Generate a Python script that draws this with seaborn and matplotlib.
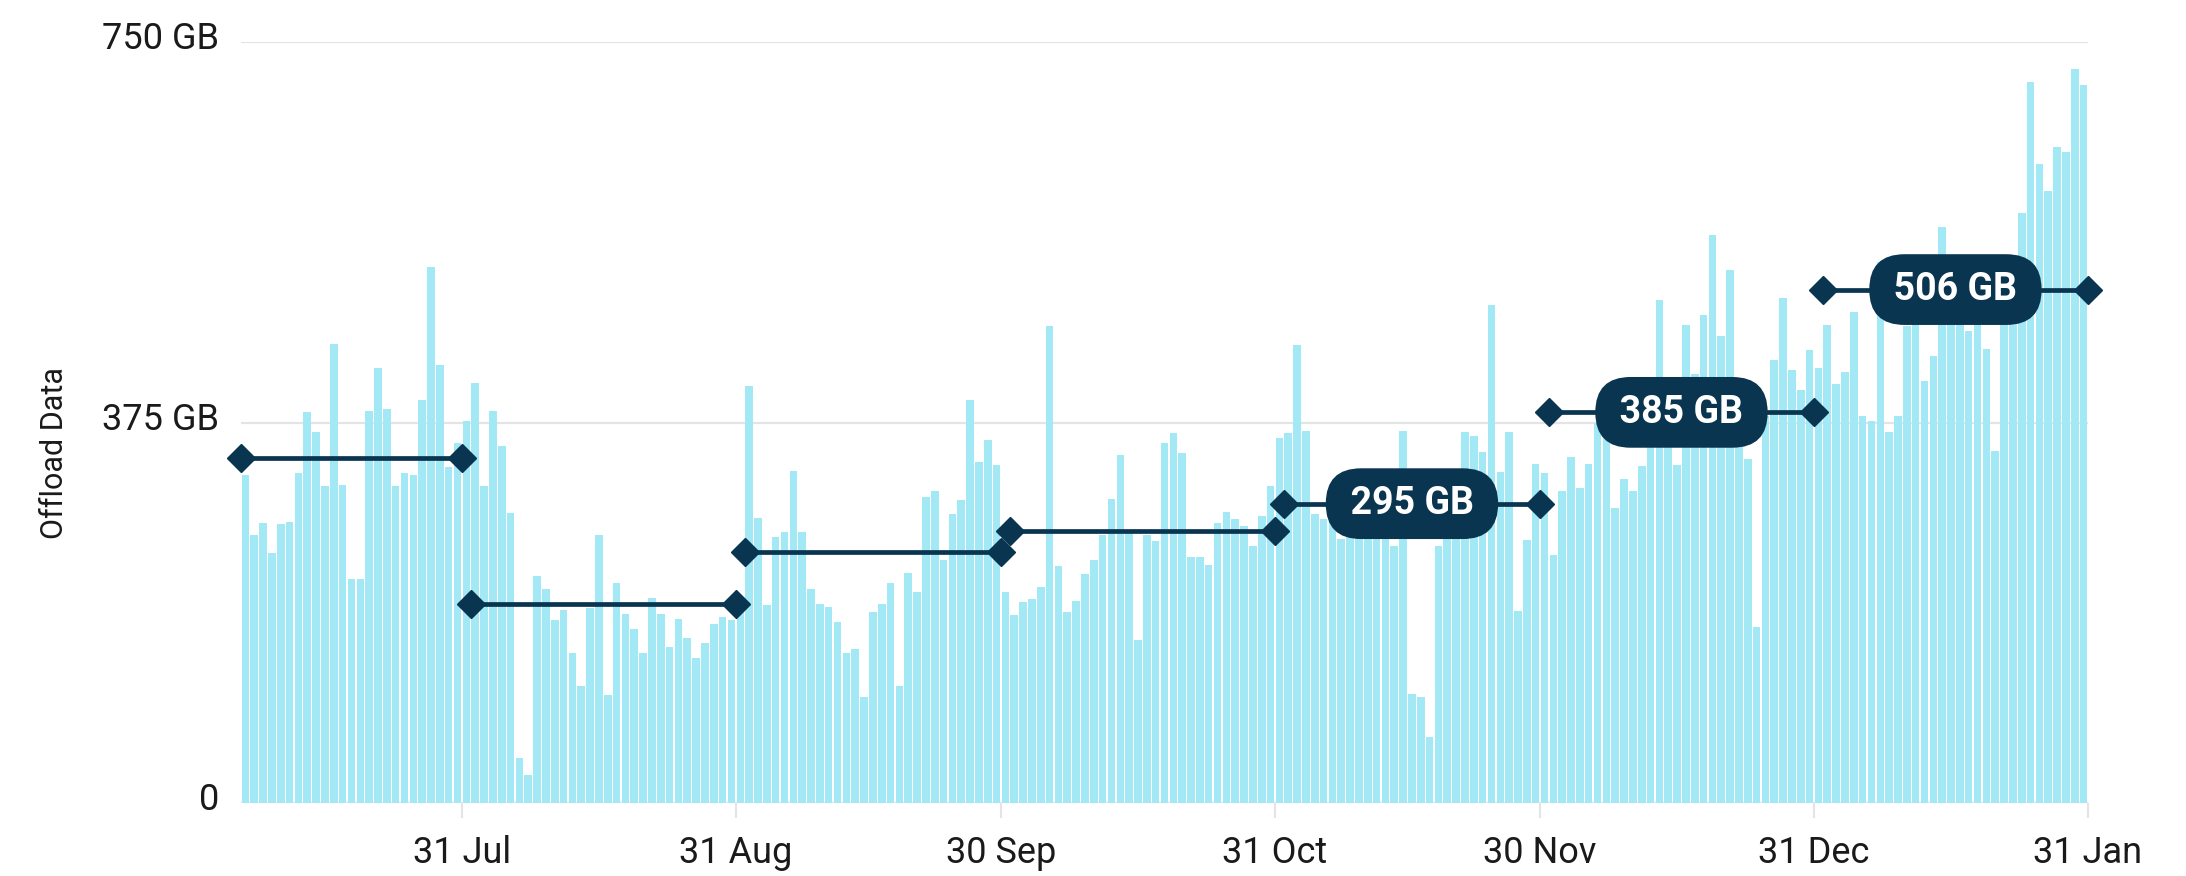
import numpy as np
import pandas as pd
import matplotlib
matplotlib.use("Agg")
import matplotlib.pyplot as plt
from matplotlib import font_manager
from matplotlib.transforms import ScaledTranslation
import seaborn as sns

# ---------------- data (GB per day) ----------------
start_date = "2023-07-06"

jul = [323, 264, 276, 246, 275, 277, 325, 385, 366, 312, 452, 313, 221, 221,
       386, 429, 388, 312, 325, 323, 397, 528, 432, 331, 355, 376]
aug = [414, 312, 386, 352, 286, 44, 28, 224, 211, 180, 190, 148, 115, 192, 264,
       106, 217, 186, 171, 148, 202, 186, 154, 181, 163, 143, 158, 176, 183, 180, 190]
sep = [411, 281, 195, 262, 267, 327, 267, 211, 196, 193, 178, 148, 152, 104, 188,
       196, 217, 115, 227, 208, 302, 307, 239, 285, 299, 397, 336, 358, 333, 208]
oct_ = [185, 198, 201, 213, 470, 234, 188, 199, 226, 239, 264, 300, 343, 267, 161,
        264, 258, 355, 365, 345, 242, 242, 235, 276, 287, 280, 273, 253, 283, 312, 360]
nov = [365, 451, 367, 285, 280, 287, 260, 292, 285, 285, 285, 285, 253, 367, 107,
       104, 65, 253, 300, 310, 366, 362, 346, 491, 326, 366, 189, 259, 334, 325]
dec = [244, 307, 341, 310, 334, 375, 370, 291, 319, 307, 332, 370, 496, 380, 333,
       471, 423, 481, 560, 460, 525, 385, 339, 173, 381, 437, 498, 427, 407, 446, 429]
jan = [471, 413, 425, 484, 381, 376, 533, 366, 381, 470, 500, 416, 441, 568, 500,
       472, 465, 472, 447, 347, 500, 510, 581, 711, 630, 603, 647, 642, 723, 708]

daily_gb = jul + aug + sep + oct_ + nov + dec + jan

month_names = ["Jul", "Aug", "Sep", "Oct", "Nov", "Dec", "Jan"]
month_first_day = ["2023-07-06", "2023-08-01", "2023-09-01", "2023-10-01",
                   "2023-11-01", "2023-12-01", "2024-01-01"]
month_last_day = ["2023-07-31", "2023-08-31", "2023-09-30", "2023-10-31",
                  "2023-11-30", "2023-12-31", "2024-01-31"]
month_avg_gb = [340, 196, 247, 268, 295, 385, 506]
labelled_months = ["Nov", "Dec", "Jan"]

tick_dates = ["2023-07-31", "2023-08-31", "2023-09-30", "2023-10-31",
              "2023-11-30", "2023-12-31", "2024-01-31"]
tick_labels = ["31 Jul", "31 Aug", "30 Sep", "31 Oct", "30 Nov", "31 Dec", "31 Jan"]
y_ticks = [0, 375, 750]
y_tick_labels = ["0", "375 GB", "750 GB"]

# ---------------- helpers ----------------
t0 = pd.Timestamp(start_date)


def day(s):
    return (pd.Timestamp(s) - t0).days


df = pd.DataFrame({"day": np.arange(len(daily_gb)) + 0.5, "gb": daily_gb})

# ---------------- style ----------------
sns.set_theme(style="white")
plt.rcParams["font.family"] = ["Roboto", "DejaVu Sans"]

BAR = "#a2e9f5"
NAVY = "#0a3550"
GRID = "#e4e4e4"
TXT = "#1a1a1a"
PILL_FS = 27
PILL_PAD = 0.45

W, H = 2186, 876
fig = plt.figure(figsize=(W / 100, H / 100), dpi=100)
ax = fig.add_axes([241 / W, 1 - 803 / H, (2088 - 241) / W, (803 - 42) / H])

sns.barplot(data=df, x="day", y="gb", native_scale=True, width=0.86,
            color=BAR, saturation=1, errorbar=None, linewidth=0, ax=ax)

# monthly average segments
pills = []
for name, a, b, v in zip(month_names, month_first_day, month_last_day, month_avg_gb):
    xa, xb = day(a), day(b)
    ax.plot([xa, xb], [v, v], color=NAVY, lw=3.4, marker="D", ms=14,
            solid_capstyle="butt", zorder=4, clip_on=False)
    if name in labelled_months:
        t = ax.text((xa + xb) / 2, v, f"\u2009{v} GB\u2009", ha="center", va="center",
                    color="white", fontsize=PILL_FS, fontweight="bold", zorder=5,
                    bbox=dict(boxstyle=f"round,pad={PILL_PAD}", fc=NAVY, ec="none"))
        pills.append(t)

# axes
ax.set_xlim(0, len(daily_gb))
ax.set_ylim(0, 750)
ax.set_yticks(y_ticks, y_tick_labels)
ax.set_xticks([day(d) for d in tick_dates], tick_labels)
ax.set_xlabel("")
ax.grid(axis="y", color=GRID, lw=1.6)
ax.grid(axis="x", visible=False)
ax.set_axisbelow(True)
for s in ax.spines.values():
    s.set_visible(False)
ax.tick_params(axis="x", bottom=True, direction="out", length=11, width=1.5,
               color=GRID, pad=12, labelsize=26, labelcolor=TXT)
ax.tick_params(axis="y", left=False, length=0, pad=16, labelsize=26, labelcolor=TXT)
for lab in ax.get_yticklabels():
    lab.set_transform(lab.get_transform() + ScaledTranslation(0, 5 / 72, fig.dpi_scale_trans))

names = {f.name for f in font_manager.fontManager.ttflist}
if "Liberation Sans Narrow" in names:
    ax.set_ylabel("Offload Data", fontsize=26.5, family=["Liberation Sans Narrow"], color=TXT)
else:
    ax.set_ylabel("Offload Data", fontsize=22, family=["Roboto"], color=TXT)
ax.yaxis.set_label_coords(-0.093, 0.46)

# make the pills stadium-shaped: rounding radius = half of the box height
fig.canvas.draw()
renderer = fig.canvas.get_renderer()
fs_px = PILL_FS * fig.dpi / 72
for t in pills:
    h = t.get_window_extent(renderer).height
    rs = (h / 2) / fs_px + PILL_PAD
    t.get_bbox_patch().set_boxstyle("round", pad=PILL_PAD, rounding_size=rs)

fig.savefig("out.png", dpi=100, facecolor="white")
